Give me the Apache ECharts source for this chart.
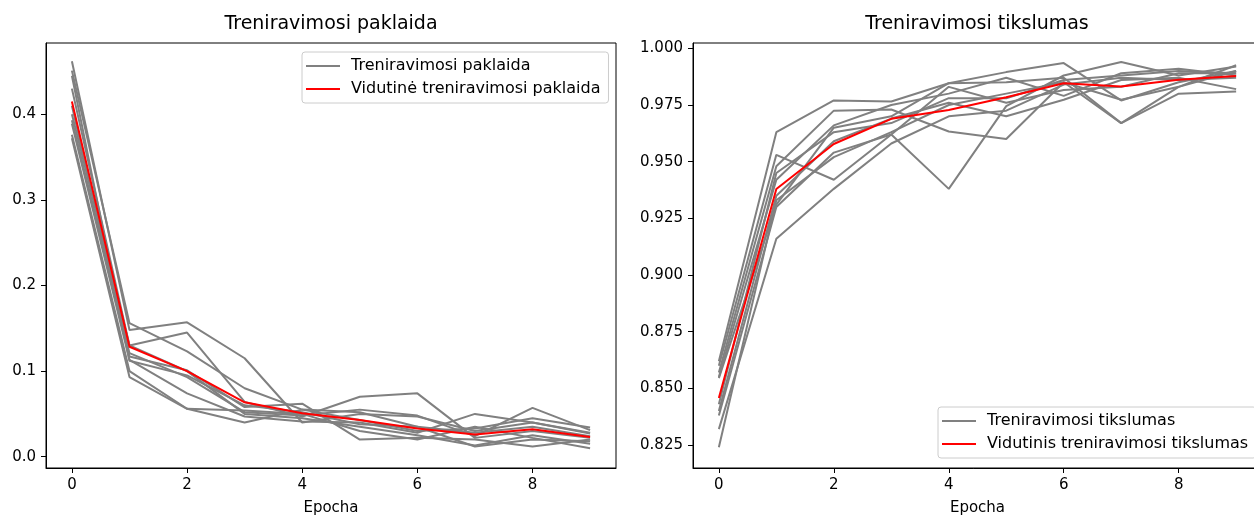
<!DOCTYPE html>
<html>
<head>
<meta charset="utf-8">
<title>Treniravimosi paklaida ir tikslumas</title>
<script src="https://cdn.jsdelivr.net/npm/echarts@6/dist/echarts.min.js"></script>
<style>
  html, body { margin: 0; padding: 0; background: #ffffff; }
  #chart { width: 1254px; height: 516px; }
</style>
</head>
<body>
<div id="chart"></div>
<script>
// Epochs shared by both panels
const epochs = [0, 1, 2, 3, 4, 5, 6, 7, 8, 9];

// Training loss for each of the ten runs
const lossRun1  = [0.462, 0.148, 0.157, 0.115, 0.040, 0.050, 0.047, 0.030, 0.040, 0.027];
const lossRun2  = [0.451, 0.156, 0.123, 0.080, 0.055, 0.052, 0.035, 0.012, 0.020, 0.018];
const lossRun3  = [0.430, 0.130, 0.145, 0.064, 0.047, 0.070, 0.074, 0.022, 0.030, 0.022];
const lossRun4  = [0.410, 0.117, 0.101, 0.058, 0.062, 0.020, 0.022, 0.020, 0.012, 0.020];
const lossRun5  = [0.393, 0.121, 0.093, 0.052, 0.048, 0.055, 0.048, 0.024, 0.057, 0.031];
const lossRun6  = [0.389, 0.113, 0.074, 0.047, 0.041, 0.040, 0.028, 0.050, 0.040, 0.028];
const lossRun7  = [0.376, 0.100, 0.056, 0.040, 0.055, 0.043, 0.030, 0.033, 0.045, 0.034];
const lossRun8  = [0.372, 0.093, 0.056, 0.054, 0.050, 0.030, 0.020, 0.035, 0.022, 0.010];
const lossRun9  = [0.400, 0.130, 0.100, 0.050, 0.045, 0.035, 0.025, 0.013, 0.025, 0.015];
const lossRun10 = [0.445, 0.112, 0.095, 0.060, 0.052, 0.038, 0.035, 0.028, 0.035, 0.024];
const lossMean  = [0.415, 0.1285, 0.100, 0.0636, 0.0507, 0.043, 0.033, 0.026, 0.032, 0.023];

// Training accuracy for each of the ten runs
const accRun1  = [0.862, 0.963, 0.977, 0.9765, 0.9846, 0.9895, 0.9935, 0.977, 0.985, 0.990];
const accRun2  = [0.860, 0.953, 0.942, 0.962, 0.938, 0.9745, 0.988, 0.994, 0.988, 0.992];
const accRun3  = [0.857, 0.948, 0.9725, 0.973, 0.9633, 0.960, 0.985, 0.967, 0.983, 0.9925];
const accRun4  = [0.855, 0.942, 0.966, 0.975, 0.980, 0.987, 0.979, 0.989, 0.991, 0.988];
const accRun5  = [0.8545, 0.931, 0.965, 0.970, 0.9846, 0.985, 0.987, 0.967, 0.980, 0.981];
const accRun6  = [0.843, 0.945, 0.963, 0.967, 0.978, 0.978, 0.986, 0.988, 0.990, 0.989];
const accRun7  = [0.840, 0.935, 0.959, 0.969, 0.976, 0.970, 0.9773, 0.986, 0.987, 0.982];
const accRun8  = [0.838, 0.930, 0.954, 0.962, 0.983, 0.976, 0.9816, 0.983, 0.989, 0.989];
const accRun9  = [0.832, 0.916, 0.938, 0.958, 0.970, 0.9725, 0.984, 0.987, 0.986, 0.987];
const accRun10 = [0.824, 0.933, 0.952, 0.963, 0.975, 0.980, 0.985, 0.9773, 0.983, 0.990];
const accMean  = [0.8457, 0.9379, 0.9578, 0.9689, 0.9728, 0.9784, 0.9846, 0.9831, 0.9861, 0.9878];

// Tick labels
const xTicks = [0, 2, 4, 6, 8];
const lossTicks = [0.0, 0.1, 0.2, 0.3, 0.4];
const accTicks = [0.825, 0.850, 0.875, 0.900, 0.925, 0.950, 0.975, 1.000];

const lossRuns = [lossRun1, lossRun2, lossRun3, lossRun4, lossRun5,
                  lossRun6, lossRun7, lossRun8, lossRun9, lossRun10];
const accRuns = [accRun1, accRun2, accRun3, accRun4, accRun5,
                 accRun6, accRun7, accRun8, accRun9, accRun10];

const FONT = 'DejaVu Sans';
const pairs = vals => epochs.map((e, i) => [e, vals[i]]);

function lineSeries(name, vals, axisIdx, color, z) {
  return {
    name: name,
    type: 'line',
    xAxisIndex: axisIdx,
    yAxisIndex: axisIdx,
    data: pairs(vals),
    symbol: 'none',
    silent: true,
    animation: false,
    z: z,
    lineStyle: { color: color, width: 2 },
    itemStyle: { color: color }
  };
}

function xAxisFor(gridIndex) {
  return {
    type: 'value',
    gridIndex: gridIndex,
    min: -0.45,
    max: 9.45,
    name: 'Epocha',
    nameLocation: 'middle',
    nameGap: 33,
    nameTextStyle: { fontFamily: FONT, fontSize: 15, color: '#000' },
    axisLine: { show: true, onZero: false, lineStyle: { color: '#000', width: 1 } },
    axisTick: { show: true, length: 5, lineStyle: { color: '#000' }, customValues: xTicks },
    axisLabel: { fontFamily: FONT, fontSize: 15, color: '#000', margin: 10,
                 customValues: xTicks, formatter: v => String(v) },
    splitLine: { show: false }
  };
}

function yAxisFor(gridIndex, min, max, ticks, digits) {
  return {
    type: 'value',
    gridIndex: gridIndex,
    min: min,
    max: max,
    axisLine: { show: true, onZero: false, lineStyle: { color: '#000', width: 1 } },
    axisTick: { show: true, length: 5, lineStyle: { color: '#000' }, customValues: ticks },
    axisLabel: { fontFamily: FONT, fontSize: 15, color: '#000', margin: 10,
                 customValues: ticks, formatter: v => Number(v).toFixed(digits) },
    splitLine: { show: false }
  };
}

function legendAt(left, top, names, colors) {
  return {
    orient: 'vertical',
    left: left,
    top: top,
    data: names.map((n, i) => ({ name: n, icon: 'rect', itemStyle: { color: colors[i] } })),
    itemWidth: 34,
    itemHeight: 2,
    itemGap: 7,
    padding: [6, 8, 6, 4],
    backgroundColor: 'rgba(255,255,255,0.8)',
    borderColor: '#cccccc',
    borderWidth: 1,
    borderRadius: 3,
    selectedMode: false,
    textStyle: { fontFamily: FONT, fontSize: 16, color: '#000', padding: [0, 0, 0, 6] }
  };
}

const series = [];
lossRuns.forEach(r => series.push(lineSeries('Treniravimosi paklaida', r, 0, '#808080', 2)));
series.push(lineSeries('Vidutinė treniravimosi paklaida', lossMean, 0, '#ff0000', 3));
accRuns.forEach(r => series.push(lineSeries('Treniravimosi tikslumas', r, 1, '#808080', 2)));
series.push(lineSeries('Vidutinis treniravimosi tikslumas', accMean, 1, '#ff0000', 3));

const chart = echarts.init(document.getElementById('chart'), null, { renderer: 'canvas' });
chart.setOption({
  backgroundColor: '#ffffff',
  animation: false,
  title: [
    { text: 'Treniravimosi paklaida', left: 331, top: 15, textAlign: 'center', padding: 0,
      textStyle: { fontFamily: FONT, fontSize: 19, fontWeight: 'normal', color: '#000' } },
    { text: 'Treniravimosi tikslumas', left: 977, top: 15, textAlign: 'center', padding: 0,
      textStyle: { fontFamily: FONT, fontSize: 19, fontWeight: 'normal', color: '#000' } }
  ],
  grid: [
    { left: 46, top: 43, width: 570, height: 425, show: true, borderColor: '#000', borderWidth: 1,
      backgroundColor: 'transparent', containLabel: false, outerBoundsMode: 'none' },
    { left: 693, top: 43, width: 569, height: 425, show: true, borderColor: '#000', borderWidth: 1,
      backgroundColor: 'transparent', containLabel: false, outerBoundsMode: 'none' }
  ],
  xAxis: [xAxisFor(0), xAxisFor(1)],
  yAxis: [
    yAxisFor(0, -0.0132, 0.4833, lossTicks, 1),
    yAxisFor(1, 0.81486, 1.00234, accTicks, 3)
  ],
  legend: [
    legendAt(302, 52, ['Treniravimosi paklaida', 'Vidutinė treniravimosi paklaida'], ['#808080', '#ff0000']),
    legendAt(938, 407, ['Treniravimosi tikslumas', 'Vidutinis treniravimosi tikslumas'], ['#808080', '#ff0000'])
  ],
  series: series
});
</script>
</body>
</html>
